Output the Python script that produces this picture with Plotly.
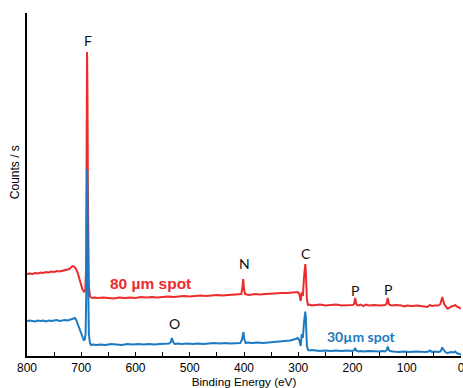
import plotly.graph_objects as go

# Binding energy (eV) and counts (arbitrary units)
be_80 = [800, 795, 790, 785, 780, 775, 770, 765, 760, 755, 750, 745, 740, 735, 730, 726, 722, 719, 716, 713,
         710, 707, 704, 701, 698, 695, 692.5, 691, 690, 689.3, 688.6, 687.8, 687, 686, 684, 682, 679, 675,
         670, 660, 650, 640, 630, 620, 610, 600, 590, 580, 570, 560, 550, 540, 530, 520, 510, 500, 490, 480,
         470, 460, 450, 440, 430, 420, 410, 405, 403, 401.5, 400, 398, 395, 390, 380, 370, 360, 350, 340,
         330, 320, 310, 305, 301, 298, 295.5, 293.6, 291.5, 289.5, 288, 287, 286, 285, 284, 282, 279, 275,
         270, 260, 250, 240, 230, 220, 210, 200, 197, 195, 193.5, 192, 189, 185, 180, 175, 170, 160, 150,
         145, 140, 137, 135, 133, 131, 127, 120, 110, 104, 100, 90, 80, 70, 62, 57, 54, 48, 42, 38, 36, 34.5,
         33, 31, 28, 25, 22, 18, 14, 11, 8, 5, 2, 0]
cnt_80 = [82, 82.5, 82, 83, 82.5, 83.5, 83, 84, 83.5, 84.5, 84, 85, 84.5, 85, 85.5, 86, 87, 88.5, 90, 89.5,
          87.5, 84, 78, 72, 67, 64.5, 66, 90, 200, 304, 270, 170, 95, 70, 60, 58.5, 58, 58.5,
          58, 58.5, 58, 57.5, 58.5, 58, 58.5, 58, 59, 58.5, 59, 58.5, 59, 59.5, 59, 59.5, 60, 59.5, 60, 60.5,
          60, 60.5, 61, 60.5, 61, 61, 61.5, 62, 68, 77, 67, 62, 61.5, 61, 62, 61.5, 62, 62.5, 62.5,
          63, 63, 63.5, 64, 64, 62, 55, 63.5, 60, 78, 89, 92, 84, 68, 56, 51, 51.5, 50.5,
          51, 51.5, 50.5, 51, 51.5, 50.5, 51, 51, 52, 58, 53, 51, 50.5, 51.5, 50, 51.5, 50.5, 51, 50.5,
          51, 51, 52.5, 58, 52, 51, 50.5, 51, 50.5, 49.5, 50.5, 50, 50.5, 50, 49, 51, 50, 50.5, 50.5, 52, 56, 59,
          56, 52, 49.5, 47.5, 48, 49.5, 50, 51, 49.5, 48.5, 48, 47.5]

be_30 = [800, 795, 790, 785, 780, 775, 770, 765, 760, 755, 750, 745, 740, 735, 730, 725, 720, 715, 711.5, 709,
         706, 703, 700, 697.5, 695.5, 693.5, 692, 690.8, 690, 689.3, 688.6, 687.8, 687, 686, 684, 682, 678, 672,
         665, 655, 645, 635, 625, 615, 605, 595, 585, 575, 565, 555, 545, 538, 535, 533, 531, 528, 522, 515,
         505, 495, 485, 475, 465, 455, 445, 435, 425, 415, 407, 404, 402, 401, 399.5, 397, 393, 385, 375, 365,
         355, 345, 335, 325, 315, 305, 301, 298, 295.5, 293.6, 291.5, 289.5, 288, 287, 286, 285, 284, 282, 279,
         275, 270, 260, 250, 240, 230, 220, 210, 200, 197, 195, 193.5, 192, 189, 185, 180, 170, 160, 150, 145,
         140, 137, 135, 133, 131, 125, 115, 105, 95, 85, 75, 65, 60, 57, 54, 48, 42, 38, 36, 34.5, 33, 31, 28,
         25, 22, 18, 14, 11, 8, 5, 2, 0]
cnt_30 = [35, 35.5, 35, 34.5, 35.5, 35, 35.5, 34.5, 35.5, 35, 35.5, 36, 35, 35.5, 36, 35.5, 36.5, 37, 38, 35.5,
          31, 27, 22, 18.5, 16, 16.5, 22, 60, 140, 187, 165, 100, 45, 22, 13, 11, 11.5, 11,
          11.5, 11, 12, 11.5, 11, 12, 11.5, 12, 11.5, 12, 11.5, 12, 12, 12.5, 14, 18, 14.5, 12, 12.5, 12,
          12.5, 12, 12.5, 12, 12.5, 13, 12.5, 13, 12.5, 13, 13, 16, 22, 24, 17, 13, 13.5, 13, 13.5, 13,
          13.5, 14, 14.5, 15, 15.5, 17, 18, 16, 10, 22, 18, 33, 42, 44.5, 38, 24, 10, 6, 5.5,
          6, 5.5, 5, 5.5, 5, 5.5, 5, 5.5, 5, 6, 8, 5.5, 5, 4.5, 5, 4.5, 5, 4.5, 4.5, 5,
          4.5, 6, 9.5, 6, 5, 4.5, 4, 4.5, 4, 4.5, 4, 4, 4.5, 5.5, 4, 4.5, 4, 4.5, 6.5, 8.5, 7, 5, 3.5,
          3, 3.5, 4, 3.5, 4.5, 3, 2.5, 2, 1.5]

peak_labels = ["F", "N", "C", "P", "P", "O"]
peak_be = [687.6, 400, 285.7, 195, 134.6, 529]
peak_cnt = [316, 93, 103, 66, 67, 33]

RED = "#EC2B2C"
BLUE = "#1C7AC2"

fig = go.Figure()
fig.add_trace(go.Scatter(x=be_80, y=cnt_80, mode="lines", line=dict(color=RED, width=2), showlegend=False))
fig.add_trace(go.Scatter(x=be_30, y=cnt_30, mode="lines", line=dict(color=BLUE, width=2), showlegend=False))

for t, xv, yv in zip(peak_labels, peak_be, peak_cnt):
    fig.add_annotation(x=xv, y=yv, text=t, showarrow=False,
                       font=dict(family="Lato, Liberation Sans, Arial", size=14, color="#111111"))

fig.add_annotation(x=573, y=73, text="<b>80 µm spot</b>", showarrow=False,
                   font=dict(family="Liberation Sans, Arial", size=15.5, color=RED))
fig.add_annotation(x=182.5, y=20, text="<b>30µm spot</b>", showarrow=False,
                   font=dict(family="Lato, Liberation Sans, Arial", size=14, color=BLUE))

# y-axis title placed as rotated text
fig.add_annotation(xref="paper", yref="paper", x=0, y=0.536, xshift=-12,
                   xanchor="center", yanchor="middle", textangle=-90,
                   text="Counts / s", showarrow=False,
                   font=dict(family="Liberation Sans, Arial", size=12, color="black"))

fig.update_layout(
    width=463, height=388,
    margin=dict(l=27, r=2, t=13, b=32, autoexpand=False),
    plot_bgcolor="white", paper_bgcolor="white",
    font=dict(family="Liberation Sans, Arial", color="black"),
)
fig.update_xaxes(
    range=[800, 0], showgrid=False, zeroline=False,
    showline=True, linecolor="black", linewidth=1.5,
    tickmode="linear", tick0=0, dtick=100,
    ticks="inside", ticklen=4, tickwidth=1, tickcolor="black",
    minor=dict(dtick=50, ticks="inside", ticklen=4, tickcolor="black", tickwidth=1),
    tickfont=dict(size=12, color="black"),
    ticklabeloverflow="allow", automargin=False,
    title=dict(text="Binding Energy (eV)", font=dict(size=11.7, color="black"), standoff=2),
)
fig.update_yaxes(
    range=[0, 343], showgrid=False, zeroline=False,
    showline=True, linecolor="black", linewidth=1.5,
    showticklabels=False, ticks="", automargin=False,
)

fig.write_html("out.html")
